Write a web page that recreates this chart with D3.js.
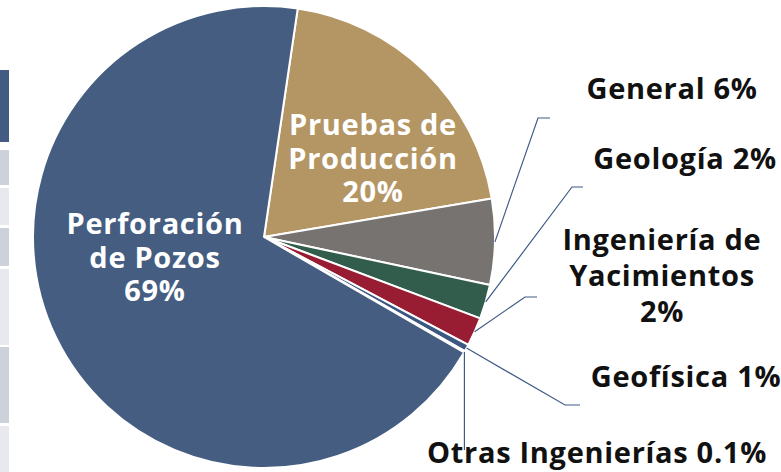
<!DOCTYPE html>
<html>
<head>
<meta charset="utf-8">
<script src="https://cdn.jsdelivr.net/npm/d3@7"></script>
<style>
  body { margin: 0; background: #fff; }
  svg { display: block; font-family: "Open Sans", sans-serif; font-weight: 700; }
</style>
</head>
<body>
<svg id="chart" width="781" height="472"></svg>
<script>
// slices in drawing order (clockwise, Pruebas first)
const categories = ["Pruebas de Producción", "General", "Geología", "Ingeniería de Yacimientos", "Geofísica", "Otras Ingenierías", "Perforación de Pozos"];
const shares = [20, 6, 2.4, 2.0, 0.5, 0.1, 69];
const shareLabels = ["20%", "6%", "2%", "2%", "1%", "0.1%", "69%"];
const colors = ["#b49664", "#767370", "#325c4c", "#981d32", "#3c5781", "#5a7399", "#445d81"];

// left edge strip (table fragment)
const stripRows = [[70, 142], [150, 185], [188, 225], [228, 266], [269, 345], [347, 423], [426, 472]];
const stripColors = ["#435b80", "#cdd1da", "#e8e9ee", "#cdd1da", "#e8e9ee", "#cdd1da", "#e8e9ee"];

const svg = d3.select("#chart");
const cx = 264, cy = 237, r = 231;
const startAngle = 8.4 * Math.PI / 180;
const fontSize = 29, spacing = 0.7;

svg.append("g").selectAll("rect")
  .data(stripRows)
  .join("rect")
  .attr("x", 0)
  .attr("y", d => d[0])
  .attr("width", 9)
  .attr("height", d => d[1] - d[0])
  .attr("fill", (d, i) => stripColors[i]);

const pie = d3.pie().sort(null).value(d => d)
  .startAngle(startAngle).endAngle(startAngle + 2 * Math.PI);
const arcs = pie(shares);
const arc = d3.arc().innerRadius(0).outerRadius(r);

const g = svg.append("g").attr("transform", `translate(${cx},${cy})`);

g.selectAll("path")
  .data(arcs)
  .join("path")
  .attr("d", arc)
  .attr("fill", (d, i) => colors[i])
  .attr("stroke", "#fff")
  .attr("stroke-width", 2)
  .attr("stroke-linejoin", "round");

// inside labels
const inside = [
  { i: 0, x: 373, lines: ["Pruebas de", "Producción"], y0: 135 },
  { i: 6, x: 155, lines: ["Perforación", "de Pozos"], y0: 234 }
];
inside.forEach(l => {
  const t = svg.append("text")
    .attr("text-anchor", "middle")
    .attr("fill", "#fff")
    .attr("font-size", fontSize)
    .attr("letter-spacing", spacing);
  l.lines.concat([shareLabels[l.i]]).forEach((s, k) => {
    t.append("tspan").attr("x", l.x).attr("y", l.y0 + k * 33.5).text(s);
  });
});

// outside labels with leader lines
const outside = [
  { i: 1, elbow: [538, 118], end: 550, x: 672, lines: ["General " + shareLabels[1]], y0: 99 },
  { i: 2, elbow: [572, 187], end: 583, x: 685, lines: ["Geología " + shareLabels[2]], y0: 169 },
  { i: 3, elbow: [525, 297], end: 537, x: 662, lines: ["Ingeniería de", "Yacimientos", shareLabels[3]], y0: 250 },
  { i: 4, elbow: [565, 405], end: 580, x: 686, lines: ["Geofísica " + shareLabels[4]], y0: 387 },
  { i: 5, elbow: null, end: null, x: 597, lines: ["Otras Ingenierías " + shareLabels[5]], y0: 463 }
];

const line = d3.line();
outside.forEach(l => {
  const a = arcs[l.i];
  const mid = (a.startAngle + a.endAngle) / 2;
  const p0 = [cx + r * Math.sin(mid), cy - r * Math.cos(mid)];
  const pts = l.elbow ? [p0, l.elbow, [l.end, l.elbow[1]]] : [p0, [p0[0], 450]];
  svg.append("path")
    .attr("d", line(pts))
    .attr("fill", "none")
    .attr("stroke", "#3f5b86")
    .attr("stroke-width", 1.2);

  const t = svg.append("text")
    .attr("text-anchor", "middle")
    .attr("fill", "#111")
    .attr("font-size", fontSize)
    .attr("letter-spacing", spacing);
  l.lines.forEach((s, k) => {
    t.append("tspan").attr("x", l.x).attr("y", l.y0 + k * 36).text(s);
  });
});
</script>
</body>
</html>
